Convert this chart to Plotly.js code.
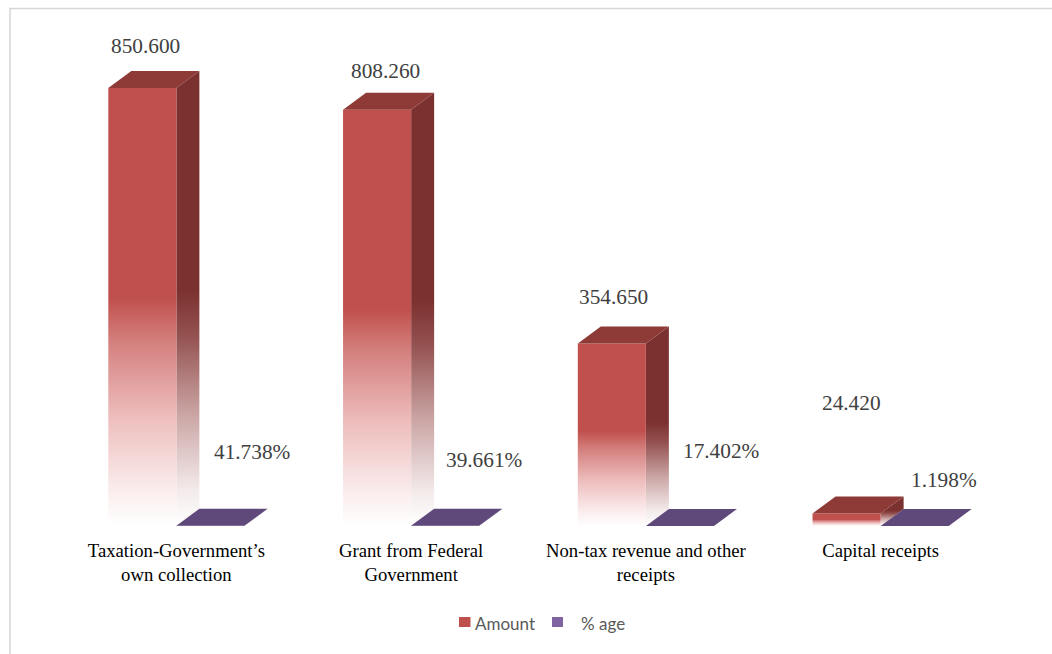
<!DOCTYPE html>
<html>
<head>
<meta charset="utf-8">
<script src="https://cdn.plot.ly/plotly-3.0.1.min.js"></script>
<style>
  html, body { margin: 0; padding: 0; background: #ffffff; }
  #chart { width: 1052px; height: 654px; }
</style>
</head>
<body>
<div id="chart"></div>
<script>
// ---------------- data ----------------
const categories = [
  "Taxation-Government’s<br>own collection",
  "Grant from Federal<br>Government",
  "Non-tax revenue and other<br>receipts",
  "Capital receipts"
];
const amounts = [850.600, 808.260, 354.650, 24.420];
const percentages = [41.738, 39.661, 17.402, 1.198];
const seriesNames = ["Amount", "% age"];

// ---------------- layout / style ----------------
const W = 1052, H = 654;
const M = { l: 59, r: 54, t: 20, b: 128 };
const plotW = W - M.l - M.r, plotH = H - M.t - M.b;
const xRange = [-0.5, categories.length - 0.5];
const yRange = [0, 982.7];
const pxX = plotW / (xRange[1] - xRange[0]);
const pxY = plotH / (yRange[1] - yRange[0]);
const barW = 0.29;                 // width of each front face, in category units
const depthX = 23 / pxX;           // 3D depth offset (23px right, 17px up)
const depthY = 17 / pxY;

// label placement (pixel shifts from the bar's anchor point)
const amtLabelShift = [[3, 42], [8, 39], [2, 46], [5, 110]];
const pctLabelShift = [[42, 74], [39, 66], [42, 75], [29, 46]];

const red = '#C0504D', redTop = '#8E3A37', redSide = '#7B312F';
const purpleTop = '#5F497A', purple = '#8064A2';

const frontScale = [[0, '#FFFFFF'], [0.08, '#FBEDED'], [0.25, '#EDBDBC'], [0.42, '#D4807E'], [0.52, red], [1, red]];
const sideScale = [[0, '#FFFFFF'], [0.08, '#F3EAEA'], [0.25, '#C9A3A2'], [0.42, '#935150'], [0.52, redSide], [1, redSide]];
const pFrontScale = [[0, '#FFFFFF'], [0.5, purple], [1, purple]];

function poly(xs, ys, fill, grad) {
  const t = {
    type: 'scatter', mode: 'none', x: xs.concat([xs[0]]), y: ys.concat([ys[0]]),
    fill: 'toself', hoverinfo: 'skip', showlegend: false
  };
  if (grad) t.fillgradient = { type: 'vertical', colorscale: grad };
  else t.fillcolor = fill;
  return t;
}

function boxTraces(x0, x1, v, frontG, sideG, topC) {
  const out = [];
  // side face
  out.push(poly([x1, x1 + depthX, x1 + depthX, x1], [0, depthY, v + depthY, v], null, sideG));
  // front face
  out.push(poly([x0, x1, x1, x0], [0, 0, v, v], null, frontG));
  // top face
  out.push(poly([x0, x1, x1 + depthX, x0 + depthX], [v, v, v + depthY, v + depthY], topC));
  return out;
}

const traces = [];
const annotations = [];
categories.forEach((cat, i) => {
  const c = i;
  const a = amounts[i];
  const p = percentages[i] / 100;   // percentage share plotted on the same axis, as a fraction
  traces.push(...boxTraces(c - barW, c, a, frontScale, sideScale, redTop));
  traces.push(...boxTraces(c, c + barW, p, pFrontScale, pFrontScale, purpleTop));

  annotations.push({
    x: c - barW / 2, y: a, xref: 'x', yref: 'y', showarrow: false,
    text: amounts[i].toFixed(3), xshift: amtLabelShift[i][0], yshift: amtLabelShift[i][1],
    xanchor: 'center', yanchor: 'middle',
    font: { family: 'Liberation Serif, Times New Roman, serif', size: 21.3, color: '#404040' }
  });
  annotations.push({
    x: c + barW / 2, y: p, xref: 'x', yref: 'y', showarrow: false,
    text: percentages[i].toFixed(3) + '%', xshift: pctLabelShift[i][0], yshift: pctLabelShift[i][1],
    xanchor: 'center', yanchor: 'middle',
    font: { family: 'Liberation Serif, Times New Roman, serif', size: 21.3, color: '#404040' }
  });
});

// pixel -> paper helpers for legend & frame
const px2x = px => (px - M.l) / plotW;
const py2y = py => (H - M.b - py) / plotH;

const legendFont = { family: 'Lato, Carlito, Calibri, sans-serif', size: 17, color: '#595959' };
annotations.push({ xref: 'paper', yref: 'paper', x: px2x(473), y: py2y(623), text: seriesNames[0],
  showarrow: false, xanchor: 'left', yanchor: 'middle', font: legendFont });
annotations.push({ xref: 'paper', yref: 'paper', x: px2x(579), y: py2y(623), text: seriesNames[1],
  showarrow: false, xanchor: 'left', yanchor: 'middle', font: legendFont });

const shapes = [
  { type: 'rect', xref: 'paper', yref: 'paper', x0: px2x(459), x1: px2x(470.5), y0: py2y(627), y1: py2y(617),
    fillcolor: red, line: { width: 0 } },
  { type: 'rect', xref: 'paper', yref: 'paper', x0: px2x(552), x1: px2x(563), y0: py2y(627), y1: py2y(617),
    fillcolor: purple, line: { width: 0 } },
  { type: 'path', xref: 'paper', yref: 'paper',
    path: `M ${px2x(10)} ${py2y(660)} L ${px2x(10)} ${py2y(8.5)} L ${px2x(1060)} ${py2y(8.5)}`,
    line: { color: '#D6D6D6', width: 1.5 } }
];

const layout = {
  width: W, height: H,
  margin: M,
  paper_bgcolor: '#FFFFFF', plot_bgcolor: 'rgba(0,0,0,0)',
  showlegend: false,
  xaxis: {
    range: xRange, tickvals: categories.map((_, i) => i), ticktext: categories,
    showgrid: false, zeroline: false, showline: false, ticks: '',
    ticklabelstandoff: 11,
    tickfont: { family: 'Liberation Serif, Times New Roman, serif', size: 18.7, color: '#000000' },
    fixedrange: true
  },
  yaxis: {
    range: yRange, showgrid: false, zeroline: false, showline: false,
    showticklabels: false, ticks: '', fixedrange: true
  },
  annotations: annotations,
  shapes: shapes
};

Plotly.newPlot('chart', traces, layout, { displayModeBar: false, staticPlot: true });
</script>
</body>
</html>
